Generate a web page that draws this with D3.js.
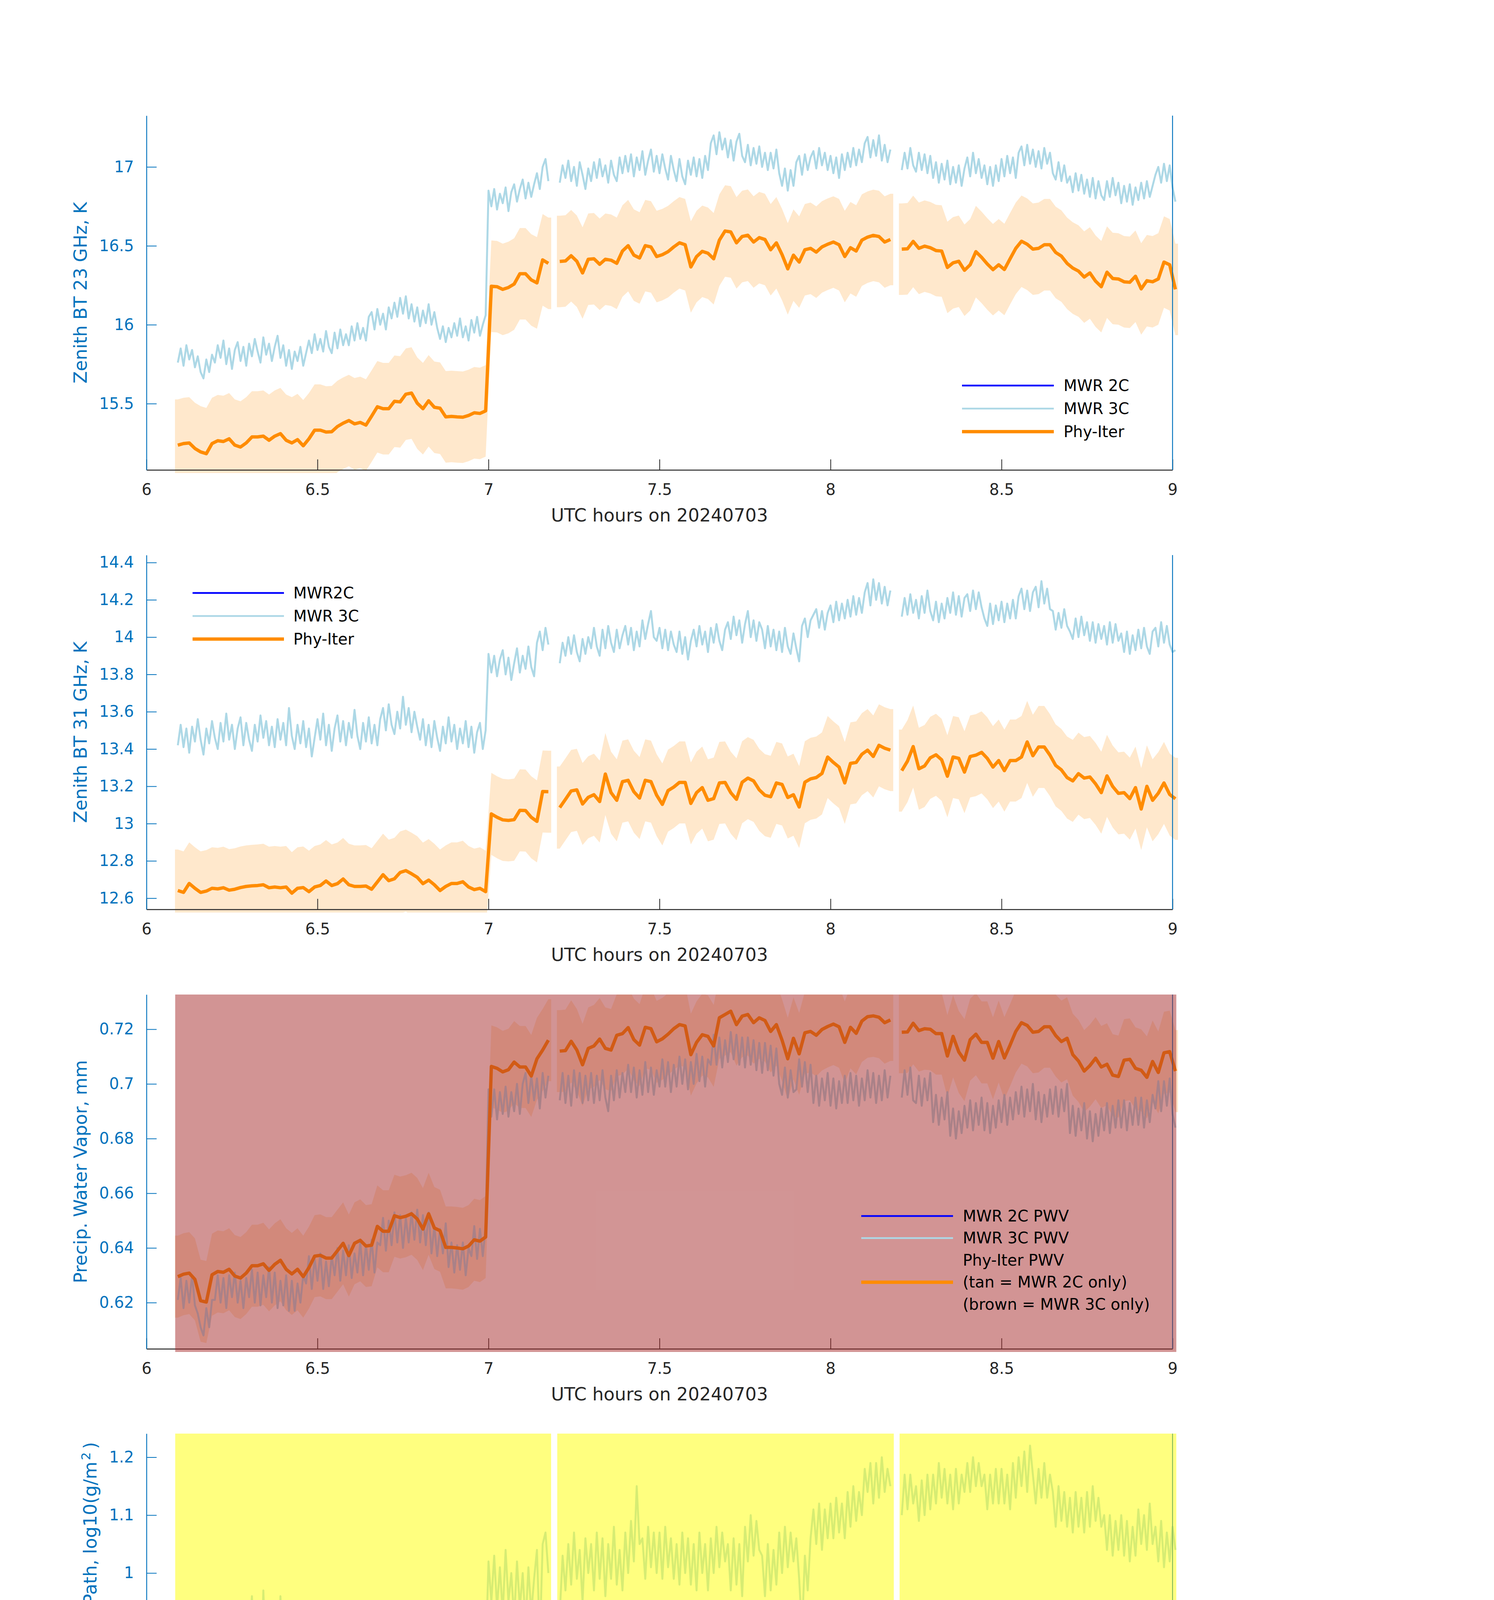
<!DOCTYPE html>
<html>
<head>
<meta charset="utf-8">
<script src="https://cdn.jsdelivr.net/npm/d3@7"></script>
<style>
  html, body { margin: 0; padding: 0; background: #fff; overflow: hidden; }
  #wrap { position: relative; width: 3825px; height: 6000px; background: #fff; }
  #wrap svg { position: absolute; left: 0; display: block; }
  text { font-family: "DejaVu Sans", sans-serif; }
</style>
</head>
<body>
<div id="wrap"></div>
<script>
// ---- data ----
const hourTicks = [6, 6.5, 7, 7.5, 8, 8.5, 9];
const bt23Ticks = [15.5, 16, 16.5, 17];
const bt31Ticks = [12.6, 12.8, 13, 13.2, 13.4, 13.6, 13.8, 14, 14.2, 14.4];
const pwvTicks = [0.62, 0.64, 0.66, 0.68, 0.7, 0.72];
const lwpTicks = [0.7, 0.8, 0.9, 1, 1.1, 1.2];
const flagTicks = [0, 2, 4, 6, 8, 10];

// Phy-Iter retrievals, one per minute; segments start at these minute indices (t = 6 + (k+0.5)/60)
const phySegStart = [5, 72, 132];
const phyBT23 = [
  [15.237,15.247,15.251,15.216,15.194,15.183,15.247,15.265,15.260,15.277,
   15.237,15.225,15.251,15.289,15.289,15.294,15.268,15.294,15.310,15.268,
   15.251,15.272,15.233,15.277,15.332,15.332,15.320,15.322,15.355,15.376,
   15.393,15.372,15.381,15.364,15.421,15.480,15.468,15.468,15.515,15.511,
   15.560,15.567,15.503,15.468,15.518,15.477,15.471,15.416,15.419,15.416,
   15.414,15.425,15.442,15.438,15.454,16.244,16.241,16.224,16.236,16.258,
   16.323,16.323,16.284,16.265,16.411,16.389],
  [16.401,16.404,16.437,16.402,16.328,16.415,16.418,16.383,16.415,16.409,
   16.389,16.467,16.501,16.441,16.423,16.501,16.493,16.432,16.444,16.463,
   16.493,16.519,16.507,16.366,16.432,16.465,16.453,16.418,16.536,16.594,
   16.588,16.519,16.559,16.567,16.524,16.552,16.540,16.475,16.519,16.444,
   16.354,16.441,16.397,16.475,16.484,16.460,16.493,16.510,16.524,16.507,
   16.432,16.488,16.467,16.536,16.555,16.566,16.559,16.524,16.540],
  [16.479,16.481,16.528,16.484,16.498,16.488,16.470,16.467,16.363,16.392,
   16.402,16.345,16.380,16.463,16.427,16.385,16.349,16.380,16.350,16.418,
   16.484,16.529,16.510,16.479,16.484,16.507,16.507,16.458,16.435,16.389,
   16.359,16.340,16.302,16.328,16.276,16.241,16.333,16.293,16.290,16.272,
   16.269,16.307,16.227,16.279,16.272,16.290,16.397,16.380,16.224]
];
const phyBT31 = [
  [12.641,12.631,12.679,12.653,12.631,12.638,12.653,12.650,12.656,12.643,
   12.648,12.657,12.663,12.666,12.668,12.672,12.656,12.660,12.656,12.660,
   12.627,12.653,12.657,12.635,12.660,12.668,12.692,12.668,12.678,12.703,
   12.672,12.663,12.663,12.665,12.648,12.687,12.726,12.694,12.704,12.738,
   12.748,12.731,12.712,12.678,12.697,12.672,12.641,12.663,12.679,12.679,
   12.688,12.660,12.646,12.653,12.635,13.052,13.034,13.020,13.017,13.021,
   13.071,13.070,13.034,13.012,13.172,13.171],
  [13.086,13.130,13.175,13.181,13.105,13.141,13.155,13.118,13.266,13.166,
   13.125,13.225,13.232,13.171,13.137,13.232,13.225,13.152,13.103,13.177,
   13.196,13.221,13.221,13.108,13.166,13.193,13.125,13.134,13.218,13.221,
   13.166,13.130,13.222,13.244,13.229,13.181,13.152,13.144,13.218,13.210,
   13.140,13.155,13.089,13.222,13.240,13.247,13.269,13.357,13.328,13.303,
   13.218,13.323,13.328,13.372,13.394,13.360,13.420,13.404,13.394],
  [13.284,13.335,13.413,13.294,13.309,13.353,13.369,13.342,13.254,13.357,
   13.350,13.276,13.360,13.367,13.382,13.350,13.303,13.338,13.284,13.338,
   13.338,13.357,13.438,13.364,13.411,13.411,13.367,13.312,13.288,13.247,
   13.229,13.268,13.244,13.250,13.213,13.166,13.256,13.199,13.162,13.166,
   13.134,13.193,13.078,13.200,13.125,13.163,13.218,13.156,13.133]
];
const phyPWV = [
  [.6295,.6304,.6308,.6285,.6207,.6202,.6302,.6314,.6311,.6322,
   .6297,.6290,.6308,.6335,.6335,.6342,.6318,.6340,.6355,.6322,
   .6305,.6322,.6295,.6328,.6370,.6373,.6363,.6363,.6390,.6417,
   .6372,.6417,.6428,.6407,.6410,.6479,.6461,.6461,.6518,.6511,
   .6516,.6525,.6506,.6469,.6525,.6473,.6463,.6402,.6402,.6400,
   .6397,.6407,.6430,.6425,.6440,.7064,.7057,.7044,.7052,.7080,
   .7062,.7062,.7029,.7092,.7124,.7160],
  [.7120,.7122,.7156,.7124,.7070,.7130,.7139,.7164,.7130,.7124,
   .7178,.7184,.7206,.7162,.7142,.7207,.7202,.7154,.7165,.7182,
   .7202,.7217,.7212,.7107,.7152,.7180,.7174,.7139,.7242,.7254,
   .7266,.7217,.7248,.7254,.7224,.7242,.7232,.7192,.7217,.7160,
   .7092,.7167,.7110,.7187,.7192,.7178,.7199,.7210,.7219,.7209,
   .7152,.7207,.7185,.7230,.7246,.7249,.7244,.7224,.7234],
  [.7189,.7190,.7222,.7195,.7202,.7200,.7184,.7184,.7102,.7174,
   .7117,.7087,.7162,.7182,.7152,.7152,.7094,.7155,.7095,.7142,
   .7192,.7224,.7214,.7189,.7192,.7209,.7209,.7177,.7155,.7167,
   .7107,.7084,.7047,.7067,.7094,.7062,.7072,.7032,.7027,.7087,
   .7090,.7057,.7050,.7024,.7082,.7042,.7114,.7118,.7047]
];
// half-width of the Phy-Iter uncertainty band
const phyUncBT23 = 0.29;
const phyUncBT31 = 0.22;
const phyUncPWV = 0.015;

// MWR 3C, one value every 30 s; segments start at these half-minute indices (t = 6 + j/120)
const mwrSegStart = [11, 145, 265];
const mwr3cBT23 = [
  [15.76,15.85,15.74,15.87,15.78,15.84,15.73,15.80,15.70,15.66,
   15.78,15.70,15.81,15.76,15.87,15.79,15.90,15.75,15.85,15.72,
   15.84,15.89,15.77,15.86,15.74,15.88,15.80,15.91,15.83,15.76,
   15.92,15.81,15.88,15.77,15.86,15.93,15.79,15.87,15.74,15.84,
   15.72,15.83,15.77,15.86,15.74,15.82,15.90,15.82,15.94,15.84,
   15.91,15.83,15.96,15.86,15.82,15.95,15.85,15.97,15.87,15.94,
   15.87,15.99,15.90,16.01,15.91,15.98,15.90,16.05,16.08,15.97,
   16.10,16.00,16.07,15.97,16.11,16.04,16.14,16.05,16.17,16.07,
   16.18,16.04,16.13,16.02,16.11,15.99,16.09,16.01,16.13,16.00,
   16.08,15.98,15.91,15.99,15.89,15.98,15.92,16.01,15.93,16.04,
   15.92,15.99,15.90,16.03,15.95,16.05,15.93,16.00,16.06,16.85,
   16.75,16.86,16.73,16.83,16.77,16.87,16.72,16.84,16.89,16.78,
   16.86,16.92,16.80,16.90,16.81,16.89,16.96,16.86,17.00,17.05,16.91],
  [16.90,17.01,16.93,17.04,16.91,17.00,16.88,17.03,16.95,16.86,
   16.99,16.91,17.03,16.93,17.05,16.94,17.01,16.90,17.04,16.95,
   16.91,17.06,16.96,17.07,16.97,17.08,16.94,17.06,16.98,17.10,
   16.95,17.04,17.11,16.97,17.07,16.96,17.08,16.99,16.92,17.07,
   16.98,16.91,17.05,16.94,16.89,17.04,16.95,17.06,16.94,17.05,
   16.93,17.07,16.98,17.15,17.20,17.08,17.22,17.11,17.18,17.06,
   17.17,17.04,17.16,17.21,17.07,17.03,17.14,17.01,17.12,17.02,
   17.13,17.00,17.09,16.98,17.09,16.99,17.11,16.96,16.88,16.99,
   16.85,16.98,16.88,17.03,17.07,16.95,17.08,16.98,17.06,17.10,
   16.99,17.12,17.01,17.09,16.98,17.07,16.96,17.06,16.93,17.08,
   16.98,17.09,17.00,17.12,17.01,17.11,17.03,17.15,17.19,17.06,
   17.17,17.07,17.20,17.04,17.14,17.03,17.11],
  [16.98,17.09,16.99,17.12,17.01,16.97,17.09,16.98,17.08,16.96,
   17.07,16.93,17.03,16.90,17.02,16.92,17.04,16.89,17.00,16.90,
   17.01,16.88,16.99,17.06,16.94,17.09,16.96,17.05,16.93,17.01,
   16.89,17.00,16.88,17.01,16.91,17.05,16.94,17.07,16.96,17.06,
   16.93,17.09,17.13,17.01,17.14,17.02,17.11,17.00,17.10,16.99,
   17.12,17.02,17.09,16.96,16.92,17.03,16.91,17.01,16.90,16.94,
   16.84,16.96,16.85,16.95,16.83,16.92,16.81,16.93,16.80,16.91,
   16.82,16.79,16.91,16.81,16.93,16.82,16.90,16.77,16.88,16.78,
   16.89,16.76,16.87,16.79,16.90,16.80,16.91,16.81,16.88,16.95,
   17.00,16.90,17.02,16.91,17.01,16.87,16.78]
];
const mwr3cBT31 = [
  [13.42,13.53,13.41,13.51,13.38,13.52,13.44,13.56,13.45,13.37,
   13.51,13.43,13.55,13.46,13.40,13.54,13.44,13.59,13.45,13.53,
   13.40,13.51,13.57,13.42,13.54,13.45,13.39,13.53,13.44,13.58,
   13.46,13.55,13.42,13.52,13.41,13.56,13.45,13.54,13.42,13.62,
   13.47,13.40,13.53,13.43,13.55,13.41,13.51,13.36,13.46,13.56,
   13.45,13.59,13.42,13.53,13.39,13.51,13.58,13.44,13.55,13.42,
   13.54,13.46,13.61,13.47,13.40,13.54,13.44,13.57,13.43,13.53,
   13.42,13.56,13.62,13.50,13.64,13.53,13.48,13.60,13.51,13.68,
   13.53,13.62,13.49,13.60,13.52,13.45,13.56,13.42,13.53,13.41,
   13.55,13.46,13.39,13.52,13.43,13.57,13.44,13.53,13.40,13.51,
   13.43,13.55,13.41,13.52,13.38,13.49,13.54,13.40,13.50,13.91,
   13.81,13.90,13.79,13.88,13.93,13.80,13.89,13.77,13.86,13.94,
   13.81,13.90,13.83,13.95,13.84,13.79,13.97,14.03,13.93,14.05,13.96],
  [13.86,13.97,13.90,14.00,13.91,14.01,13.92,13.87,13.99,13.91,
   14.00,13.94,14.05,13.95,13.90,14.04,13.94,14.06,13.97,13.92,
   14.04,13.94,14.01,14.06,13.96,14.05,13.93,14.03,13.95,14.09,
   13.99,14.07,14.14,14.00,13.98,14.05,13.94,14.04,13.93,14.03,
   13.96,13.92,14.03,13.91,14.00,13.88,13.98,14.04,13.95,14.06,
   13.96,14.03,13.92,14.05,13.97,14.07,13.98,13.93,14.04,14.08,
   13.99,14.11,14.01,14.09,13.97,14.07,14.14,14.00,14.09,13.98,
   14.08,14.04,13.94,14.06,13.95,14.04,13.93,14.03,13.92,14.05,
   13.95,13.91,14.02,13.94,13.87,14.06,14.10,14.00,14.09,14.12,
   14.15,14.05,14.14,14.04,14.13,14.17,14.08,14.19,14.09,14.18,
   14.10,14.20,14.11,14.22,14.12,14.21,14.13,14.24,14.29,14.17,
   14.31,14.20,14.29,14.18,14.27,14.17,14.25],
  [14.11,14.21,14.12,14.23,14.13,14.20,14.10,14.22,14.13,14.25,
   14.14,14.09,14.19,14.08,14.18,14.10,14.21,14.13,14.24,14.12,
   14.22,14.11,14.21,14.23,14.14,14.25,14.15,14.24,14.16,14.10,
   14.06,14.18,14.07,14.17,14.09,14.19,14.08,14.18,14.10,14.20,
   14.10,14.22,14.26,14.15,14.25,14.14,14.24,14.27,14.16,14.30,
   14.18,14.26,14.15,14.14,14.04,14.13,14.05,14.15,14.06,14.03,
   13.99,14.10,14.00,14.11,14.01,14.08,13.98,14.08,13.97,14.07,
   13.99,14.06,13.96,14.08,13.97,14.07,13.98,14.02,13.92,14.03,
   13.91,14.01,13.93,14.04,13.94,14.05,13.95,13.91,14.03,14.05,
   13.95,14.08,13.97,14.06,13.96,13.92,13.93]
];
const mwr3cPWV = [
  [.621,.629,.618,.628,.620,.630,.619,.616,.611,.608,
   .618,.611,.621,.621,.630,.620,.629,.618,.630,.622,
   .631,.620,.628,.618,.629,.622,.632,.620,.631,.619,
   .630,.622,.633,.620,.631,.618,.628,.619,.630,.617,
   .628,.617,.627,.620,.630,.627,.637,.625,.636,.628,
   .638,.625,.635,.626,.637,.630,.640,.628,.639,.630,
   .641,.629,.638,.631,.642,.630,.641,.632,.643,.631,
   .642,.641,.651,.639,.650,.641,.653,.642,.652,.640,
   .651,.642,.653,.643,.654,.642,.652,.641,.653,.638,
   .648,.637,.647,.638,.649,.633,.642,.631,.641,.632,
   .642,.630,.640,.637,.648,.636,.647,.637,.648,.698,
   .688,.698,.687,.697,.689,.699,.688,.697,.690,.700,
   .689,.700,.704,.693,.703,.694,.702,.691,.704,.695,.703],
  [.694,.704,.693,.703,.692,.705,.695,.704,.693,.703,
   .694,.704,.693,.703,.694,.705,.695,.690,.703,.694,
   .705,.695,.704,.697,.707,.697,.706,.695,.705,.696,
   .708,.697,.706,.696,.705,.699,.709,.699,.708,.697,
   .707,.699,.710,.700,.709,.698,.708,.700,.711,.701,
   .710,.699,.709,.707,.718,.707,.717,.706,.716,.708,
   .719,.709,.718,.707,.717,.706,.717,.707,.716,.705,
   .715,.704,.715,.705,.714,.703,.713,.700,.696,.706,
   .695,.705,.697,.698,.709,.699,.708,.697,.707,.693,
   .703,.692,.702,.694,.704,.692,.702,.691,.701,.693,
   .703,.693,.704,.694,.703,.692,.702,.694,.705,.695,
   .704,.693,.703,.694,.705,.695,.703],
  [.695,.705,.696,.706,.694,.693,.703,.692,.702,.694,
   .704,.686,.696,.685,.695,.687,.697,.681,.691,.680,
   .690,.682,.692,.684,.694,.683,.693,.685,.695,.683,
   .693,.682,.692,.684,.694,.686,.696,.685,.695,.687,
   .697,.689,.699,.688,.698,.690,.700,.687,.697,.686,
   .696,.688,.698,.689,.699,.688,.698,.690,.700,.682,
   .692,.681,.691,.683,.693,.680,.690,.679,.689,.681,
   .691,.683,.693,.682,.692,.684,.694,.684,.694,.683,
   .693,.685,.695,.685,.695,.684,.694,.686,.696,.691,
   .701,.690,.701,.692,.702,.689,.684]
];
const mwr3cLWP = [
  [0.82,0.90,0.78,0.89,0.76,0.92,0.80,0.90,0.73,0.88,
   0.79,0.93,0.80,0.89,0.75,0.91,0.82,0.95,0.78,0.88,
   0.72,0.90,0.81,0.93,0.79,0.89,0.96,0.82,0.93,0.79,
   0.97,0.84,0.94,0.80,0.92,0.77,0.96,0.83,0.91,0.78,
   0.95,0.82,0.90,0.77,0.88,0.74,0.91,0.80,0.87,0.70,
   0.90,0.78,0.93,0.81,0.75,0.89,0.79,0.92,0.73,0.87,
   0.80,0.91,0.77,0.93,0.82,0.89,0.74,0.91,0.80,0.88,
   0.69,0.86,0.92,0.79,0.95,0.83,0.90,0.76,0.94,0.81,
   0.89,0.78,0.92,0.82,0.88,0.77,0.90,0.80,0.88,0.74,
   0.91,0.77,0.87,0.67,0.85,0.73,0.90,0.79,0.92,0.76,
   0.88,0.71,0.90,0.80,0.88,0.70,0.86,0.65,0.85,1.02,
   0.95,1.03,0.94,1.01,0.93,1.04,0.95,1.00,0.92,1.02,
   0.94,1.00,0.91,1.01,0.93,0.99,1.04,0.88,1.05,1.07,1.00],
  [0.93,1.03,0.97,1.05,0.98,1.07,0.99,1.04,0.95,1.06,
   1.00,1.05,0.97,1.07,0.99,1.06,0.96,1.05,0.99,1.08,
   0.98,1.04,0.97,1.07,1.00,1.09,1.02,1.15,1.05,1.06,
   0.99,1.08,1.01,1.07,1.00,1.07,0.99,1.08,1.01,1.06,
   0.99,1.05,0.98,1.07,1.00,1.06,0.98,1.05,0.97,1.07,
   1.00,1.05,0.97,1.06,1.00,1.08,1.01,1.07,1.02,1.05,
   0.97,1.06,0.98,1.05,0.96,1.08,1.02,1.10,1.03,1.09,
   1.04,1.03,0.96,1.05,0.97,1.04,0.98,1.07,1.00,1.08,
   1.01,1.07,1.02,1.06,0.99,0.90,1.03,0.97,1.06,1.11,
   1.05,1.12,1.04,1.11,1.06,1.12,1.06,1.13,1.07,1.12,
   1.06,1.14,1.08,1.15,1.09,1.14,1.10,1.18,1.14,1.19,
   1.12,1.19,1.13,1.20,1.14,1.18,1.15],
  [1.10,1.17,1.11,1.17,1.12,1.15,1.09,1.16,1.10,1.17,
   1.11,1.17,1.12,1.19,1.13,1.18,1.12,1.17,1.11,1.18,
   1.12,1.17,1.14,1.19,1.14,1.20,1.15,1.19,1.15,1.17,
   1.11,1.17,1.12,1.18,1.12,1.18,1.12,1.17,1.11,1.19,
   1.13,1.20,1.15,1.21,1.14,1.22,1.17,1.12,1.18,1.13,
   1.19,1.13,1.17,1.14,1.08,1.15,1.09,1.14,1.08,1.13,
   1.07,1.14,1.08,1.13,1.07,1.14,1.08,1.15,1.09,1.13,
   1.08,1.10,1.04,1.10,1.03,1.09,1.04,1.10,1.03,1.09,
   1.02,1.08,1.03,1.11,1.05,1.10,1.04,1.12,1.05,1.08,
   1.02,1.09,1.01,1.07,1.02,1.08,1.04]
];

// DQ flag per minute, as runs [firstMinute, lastMinute, value]
const dqFlagRuns = [[0, 4, 1], [5, 70, 5], [71, 71, 1], [72, 130, 5], [131, 131, 1], [132, 180, 5]];

// shaded spans (hours)
const pwvBrownSpans = [[6.084, 9.011]];
const lwpYellowSpans = [[6.084, 7.183], [7.201, 8.185], [8.202, 9.011]];

// ---- drawing ----
const wrap = d3.select("#wrap");
const BLUE = "#0072BD", DARK = "#262626";
const LIGHTBLUE = "#ADD8E6", ORANGE = "#FF8C00";

const x = d3.scaleLinear().domain([6, 9]).range([375, 3002]);
const panelTop = [296, 1420.8, 2545.6, 3670.4, 4795.2];
const panelH = 907;
const stripH = 1124.8;

function toPoints(segs, starts, step, offset) {
  return segs.map((vals, s) => vals.map((v, i) => ({ t: 6 + (starts[s] + i + offset) * step, v })));
}
const phyPts = segs => toPoints(segs, phySegStart, 1 / 60, 0.5);
const mwrPts = segs => toPoints(segs, mwrSegStart, 1 / 120, 0);

function panel(i, domain, ticks, label) {
  const top = panelTop[i], bottom = top + panelH;
  // each panel gets its own svg strip, sharing page coordinates through the viewBox
  const s0 = top - 70;
  const svg = wrap.append("svg")
    .attr("width", 3825).attr("height", stripH)
    .attr("viewBox", `0 ${s0} 3825 ${stripH}`)
    .style("top", `${s0}px`);
  const y = d3.scaleLinear().domain(domain).range([bottom, top]);
  const g = svg.append("g");
  svg.append("clipPath").attr("id", "clip" + i).append("rect")
    .attr("x", x(6)).attr("y", top)
    .attr("width", x(9) - x(6) + 14).attr("height", panelH + 8);
  const data = g.append("g").attr("clip-path", `url(#clip${i})`);
  const axes = g.append("g");
  const over = g.append("g").attr("clip-path", `url(#clip${i})`);
  const leg = g.append("g");

  // x axis
  axes.append("g").attr("transform", `translate(0,${bottom})`)
    .call(d3.axisBottom(x).tickValues(hourTicks).tickSize(-27).tickSizeOuter(0)
      .tickPadding(36).tickFormat(d3.format("~g")))
    .call(a => {
      a.select(".domain").attr("stroke", DARK).attr("stroke-width", 2.3);
      a.selectAll(".tick line").attr("stroke", DARK).attr("stroke-width", 2);
      a.selectAll("text").attr("fill", DARK).attr("font-size", 40)
        .attr("font-family", "DejaVu Sans");
    });
  // y axis
  const ya = axes.append("g").attr("transform", `translate(${x(6)},0)`)
    .call(d3.axisLeft(y).tickValues(ticks).tickSize(-26).tickSizeOuter(0)
      .tickPadding(32).tickFormat(d3.format("~g")))
    .call(a => {
      a.select(".domain").attr("stroke", BLUE).attr("stroke-width", 2.3);
      a.selectAll(".tick line").attr("stroke", BLUE).attr("stroke-width", 2);
      a.selectAll("text").attr("fill", BLUE).attr("font-size", 40)
        .attr("font-family", "DejaVu Sans");
    });
  // right edge line
  axes.append("line").attr("x1", x(9)).attr("x2", x(9)).attr("y1", top).attr("y2", bottom)
    .attr("stroke", BLUE).attr("stroke-width", 2.3);

  axes.append("text").attr("x", (x(6) + x(9)) / 2).attr("y", bottom + 132)
    .attr("text-anchor", "middle").attr("font-size", 46).attr("fill", DARK)
    .text("UTC hours on 20240703");

  const lx = x(6) + ya.node().getBBox().x - 32;
  const yl = axes.append("text")
    .attr("transform", `translate(${lx},${(top + bottom) / 2}) rotate(-90)`)
    .attr("text-anchor", "middle").attr("font-size", 46).attr("fill", BLUE);
  label(yl);

  return { y, data, over, leg, top, bottom };
}

function drawBand(p, segs, unc) {
  const h = 1 / 120;
  const area = d3.area().x(d => x(d.t)).y0(d => p.y(d.v - unc)).y1(d => p.y(d.v + unc));
  segs.forEach(seg => {
    const pts = [{ t: seg[0].t - h, v: seg[0].v }, ...seg, { t: seg[seg.length - 1].t + h, v: seg[seg.length - 1].v }];
    p.data.append("path").attr("d", area(pts)).attr("fill", ORANGE).attr("fill-opacity", 0.2);
  });
}
function drawLine(p, segs, color, w) {
  const line = d3.line().x(d => x(d.t)).y(d => p.y(d.v));
  p.data.selectAll(null).data(segs).join("path")
    .attr("d", line).attr("fill", "none").attr("stroke", color)
    .attr("stroke-width", w).attr("stroke-linejoin", "round");
}
function drawSpans(p, spans, color) {
  const [y0, y1] = p.y.range();
  p.over.selectAll(null).data(spans).join("rect")
    .attr("x", d => x(d[0])).attr("width", d => x(d[1]) - x(d[0]))
    .attr("y", y1).attr("height", y0 - y1 + 8)
    .attr("fill", color).attr("fill-opacity", 0.5);
}
function drawLegend(p, items, x0, x1, tx, y0, dy) {
  items.forEach((it, i) => {
    const yy = p.top + y0 + i * dy;
    if (it.color) {
      p.leg.append("line").attr("x1", x0).attr("x2", x1).attr("y1", yy).attr("y2", yy)
        .attr("stroke", it.color).attr("stroke-width", it.w);
    }
    p.leg.append("text").attr("x", tx).attr("y", yy).attr("dy", "0.35em")
      .attr("font-size", 40).attr("fill", "#000").text(it.label);
  });
}

// panel 1: 23 GHz
const p1 = panel(0, [15.08, 17.325], bt23Ticks, t => t.text("Zenith BT 23 GHz, K"));
drawBand(p1, phyPts(phyBT23), phyUncBT23);
drawLine(p1, mwrPts(mwr3cBT23), LIGHTBLUE, 5);
drawLine(p1, phyPts(phyBT23), ORANGE, 8.5);
drawLegend(p1, [
  { label: "MWR 2C", color: "#0000FF", w: 4.5 },
  { label: "MWR 3C", color: LIGHTBLUE, w: 4.5 },
  { label: "Phy-Iter", color: ORANGE, w: 8.5 }
], 2463, 2698, 2723, 691, 59);

// panel 2: 31 GHz
const p2 = panel(1, [12.54, 14.44], bt31Ticks, t => t.text("Zenith BT 31 GHz, K"));
drawBand(p2, phyPts(phyBT31), phyUncBT31);
drawLine(p2, mwrPts(mwr3cBT31), LIGHTBLUE, 5);
drawLine(p2, phyPts(phyBT31), ORANGE, 8.5);
drawLegend(p2, [
  { label: "MWR2C", color: "#0000FF", w: 4.5 },
  { label: "MWR 3C", color: LIGHTBLUE, w: 4.5 },
  { label: "Phy-Iter", color: ORANGE, w: 8.5 }
], 493, 727, 751, 97, 59);

// panel 3: PWV
const p3 = panel(2, [0.6031, 0.7327], pwvTicks, t => t.text("Precip. Water Vapor, mm"));
drawBand(p3, phyPts(phyPWV), phyUncPWV);
drawLine(p3, mwrPts(mwr3cPWV), LIGHTBLUE, 5);
drawLine(p3, phyPts(phyPWV), ORANGE, 8.5);
drawSpans(p3, pwvBrownSpans, "#A52A2A");
drawLegend(p3, [
  { label: "MWR 2C PWV", color: "#0000FF", w: 4.5 },
  { label: "MWR 3C PWV", color: LIGHTBLUE, w: 4.5 },
  { label: "Phy-Iter PWV" },
  { label: "(tan = MWR 2C only)", color: ORANGE, w: 8.5 },
  { label: "(brown = MWR 3C only)" }
], 2205, 2440, 2465, 567, 56.5);

// panel 4: LWP
const p4 = panel(3, [0.629, 1.2408], lwpTicks, t => {
  t.append("tspan").text("log10 Liquid Water Path, log10(g/m");
  t.append("tspan").attr("font-size", 32).attr("dy", -16).attr("dx", 4).text("2");
  t.append("tspan").attr("dy", 16).attr("dx", 8).text(")");
});
drawLine(p4, mwrPts(mwr3cLWP), LIGHTBLUE, 5);
drawSpans(p4, lwpYellowSpans, "#FFFF00");
drawLegend(p4, [
  { label: "MWR 2C LWP", color: "#0000FF", w: 4.5 },
  { label: "MWR 3C LWP", color: LIGHTBLUE, w: 4.5 },
  { label: "Phy-Iter LWP", color: ORANGE, w: 8.5 },
  { label: "Adiabatic LWP", color: "#800080", w: 3.5 }
], 2300, 2533, 2559, 668, 58);

// panel 5: DQ flag
const p5 = panel(4, [-0.51, 11.52], flagTicks, t => t.text("MWR Phy Iter DQ Flag"));
const flagPts = [];
dqFlagRuns.forEach(([a, b, v]) => { for (let k = a; k <= b; k++) flagPts.push({ t: 6 + (k + 0.5) / 60, v }); });
p5.data.selectAll("circle").data(flagPts).join("circle")
  .attr("cx", d => x(d.t)).attr("cy", d => p5.y(d.v)).attr("r", 5).attr("fill", ORANGE);
</script>
</body>
</html>
